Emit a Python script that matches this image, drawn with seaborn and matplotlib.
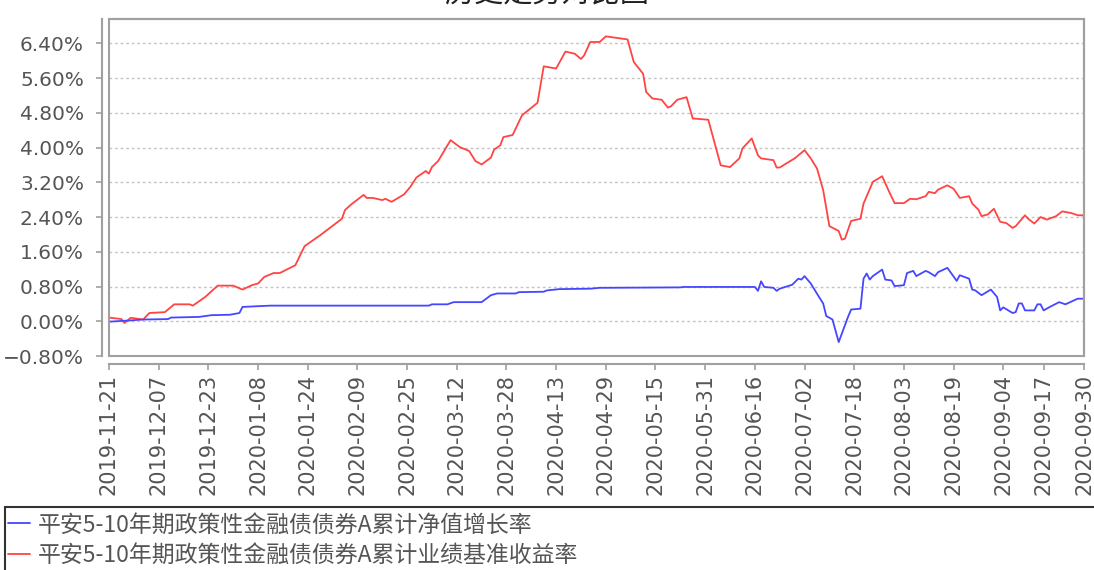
import numpy as np
import pandas as pd
import matplotlib
matplotlib.use("Agg")
import matplotlib.pyplot as plt
import matplotlib.ticker as mticker
from matplotlib.patches import Rectangle
from matplotlib.lines import Line2D
import seaborn as sns

# ---------------- data ----------------
title = "历史走势对比图"
label_nav = "平安5-10年期政策性金融债债券A累计净值增长率"
label_bench = "平安5-10年期政策性金融债债券A累计业绩基准收益率"

red_dates = [
    "2019-11-21", "2019-11-25", "2019-11-26", "2019-11-28", "2019-12-02", "2019-12-04",
    "2019-12-09", "2019-12-12", "2019-12-17", "2019-12-18", "2019-12-22", "2019-12-26",
    "2019-12-31", "2020-01-03", "2020-01-06", "2020-01-08", "2020-01-10", "2020-01-13",
    "2020-01-15", "2020-01-20", "2020-01-23", "2020-01-28", "2020-02-04", "2020-02-05",
    "2020-02-07", "2020-02-11", "2020-02-12", "2020-02-14", "2020-02-17", "2020-02-18",
    "2020-02-20", "2020-02-24", "2020-02-26", "2020-02-28", "2020-03-02", "2020-03-03",
    "2020-03-04", "2020-03-06", "2020-03-10", "2020-03-13", "2020-03-16", "2020-03-18",
    "2020-03-20", "2020-03-23", "2020-03-24", "2020-03-26", "2020-03-27", "2020-03-30",
    "2020-04-02", "2020-04-03", "2020-04-07", "2020-04-09", "2020-04-13", "2020-04-16",
    "2020-04-19", "2020-04-21", "2020-04-22", "2020-04-24", "2020-04-27", "2020-04-29",
    "2020-05-06", "2020-05-08", "2020-05-11", "2020-05-12", "2020-05-14", "2020-05-17",
    "2020-05-19", "2020-05-20", "2020-05-22", "2020-05-25", "2020-05-27", "2020-06-01",
    "2020-06-05", "2020-06-08", "2020-06-11", "2020-06-12", "2020-06-15", "2020-06-17",
    "2020-06-18", "2020-06-22", "2020-06-23", "2020-06-24", "2020-06-29", "2020-07-02",
    "2020-07-04", "2020-07-06", "2020-07-08", "2020-07-10", "2020-07-13", "2020-07-14",
    "2020-07-15", "2020-07-17", "2020-07-20", "2020-07-21", "2020-07-24", "2020-07-27",
    "2020-07-29", "2020-07-31", "2020-08-03", "2020-08-05", "2020-08-07", "2020-08-10",
    "2020-08-11", "2020-08-13", "2020-08-14", "2020-08-17", "2020-08-19", "2020-08-21",
    "2020-08-24", "2020-08-25", "2020-08-27", "2020-08-28", "2020-08-30", "2020-09-01",
    "2020-09-02", "2020-09-03", "2020-09-05", "2020-09-07", "2020-09-08", "2020-09-11",
    "2020-09-12", "2020-09-14", "2020-09-16", "2020-09-18", "2020-09-21", "2020-09-23",
    "2020-09-26", "2020-09-28", "2020-09-30",
]
red_vals = [
    0.085, 0.05, -0.04, 0.08, 0.04, 0.19,
    0.21, 0.39, 0.39, 0.36, 0.56, 0.82,
    0.82, 0.73, 0.83, 0.87, 1.02, 1.11,
    1.11, 1.29, 1.73, 1.98, 2.36, 2.56,
    2.69, 2.91, 2.84, 2.84, 2.79, 2.82,
    2.75, 2.92, 3.09, 3.31, 3.46, 3.40,
    3.55, 3.69, 4.17, 4.01, 3.92, 3.69,
    3.61, 3.77, 3.95, 4.05, 4.24, 4.29,
    4.74, 4.80, 5.03, 5.87, 5.82, 6.21,
    6.16, 6.04, 6.12, 6.43, 6.43, 6.56,
    6.49, 5.97, 5.70, 5.28, 5.13, 5.10,
    4.92, 4.95, 5.10, 5.16, 4.67, 4.64,
    3.59, 3.55, 3.75, 3.98, 4.21, 3.82,
    3.75, 3.71, 3.54, 3.54, 3.76, 3.94,
    3.75, 3.52, 3.02, 2.19, 2.08, 1.88,
    1.90, 2.31, 2.36, 2.71, 3.21, 3.34,
    3.02, 2.72, 2.72, 2.82, 2.81, 2.88,
    2.98, 2.95, 3.03, 3.13, 3.05, 2.84,
    2.88, 2.71, 2.57, 2.42, 2.46, 2.59,
    2.44, 2.29, 2.26, 2.15, 2.19, 2.44,
    2.36, 2.25, 2.40, 2.34, 2.42, 2.53,
    2.49, 2.44, 2.44,
]

blue_dates = [
    "2019-11-21", "2019-11-28", "2019-12-02", "2019-12-10", "2019-12-11", "2019-12-20",
    "2019-12-24", "2019-12-30", "2020-01-02", "2020-01-03", "2020-01-12", "2020-03-03",
    "2020-03-04", "2020-03-09", "2020-03-11", "2020-03-20", "2020-03-23", "2020-03-25",
    "2020-03-31", "2020-04-01", "2020-04-09", "2020-04-10", "2020-04-14", "2020-04-24",
    "2020-04-27", "2020-05-23", "2020-05-24", "2020-06-16", "2020-06-17", "2020-06-18",
    "2020-06-19", "2020-06-22", "2020-06-23", "2020-06-24", "2020-06-28", "2020-06-30",
    "2020-07-01", "2020-07-02", "2020-07-04", "2020-07-07", "2020-07-08", "2020-07-09",
    "2020-07-11", "2020-07-13", "2020-07-16", "2020-07-17", "2020-07-20", "2020-07-21",
    "2020-07-22", "2020-07-23", "2020-07-24", "2020-07-27", "2020-07-28", "2020-07-30",
    "2020-07-31", "2020-08-03", "2020-08-04", "2020-08-06", "2020-08-07", "2020-08-10",
    "2020-08-11", "2020-08-13", "2020-08-14", "2020-08-17", "2020-08-18", "2020-08-20",
    "2020-08-21", "2020-08-24", "2020-08-25", "2020-08-26", "2020-08-28", "2020-08-31",
    "2020-09-02", "2020-09-03", "2020-09-04", "2020-09-07", "2020-09-08", "2020-09-09",
    "2020-09-10", "2020-09-11", "2020-09-14", "2020-09-15", "2020-09-16", "2020-09-17",
    "2020-09-19", "2020-09-22", "2020-09-24", "2020-09-28", "2020-09-30",
]
blue_vals = [
    -0.01, 0.02, 0.04, 0.05, 0.085, 0.10,
    0.14, 0.15, 0.19, 0.33, 0.36, 0.36,
    0.39, 0.39, 0.44, 0.44, 0.60, 0.64,
    0.64, 0.67, 0.68, 0.71, 0.74, 0.75,
    0.77, 0.78, 0.79, 0.79, 0.70, 0.92,
    0.79, 0.77, 0.70, 0.75, 0.84, 0.98,
    0.96, 1.04, 0.87, 0.52, 0.41, 0.12,
    0.04, -0.48, 0.10, 0.27, 0.29, 0.98,
    1.10, 0.96, 1.04, 1.19, 0.96, 0.94,
    0.81, 0.83, 1.11, 1.16, 1.04, 1.16,
    1.13, 1.04, 1.13, 1.23, 1.13, 0.93,
    1.06, 0.98, 0.73, 0.71, 0.60, 0.73,
    0.56, 0.25, 0.32, 0.19, 0.21, 0.41,
    0.41, 0.25, 0.25, 0.39, 0.39, 0.25,
    0.33, 0.44, 0.39, 0.52, 0.52,
]

x_tick_labels = [
    "2019-11-21", "2019-12-07", "2019-12-23", "2020-01-08", "2020-01-24", "2020-02-09",
    "2020-02-25", "2020-03-12", "2020-03-28", "2020-04-13", "2020-04-29", "2020-05-15",
    "2020-05-31", "2020-06-16", "2020-07-02", "2020-07-18", "2020-08-03", "2020-08-19",
    "2020-09-04", "2020-09-17", "2020-09-30",
]
y_ticks = [-0.80, 0.00, 0.80, 1.60, 2.40, 3.20, 4.00, 4.80, 5.60, 6.40]

# ---------------- style ----------------
sns.set_theme(style="white")
plt.rcParams["font.family"] = ["DejaVu Sans", "Noto Sans CJK SC"]
plt.rcParams["axes.unicode_minus"] = True

RED = "#ff4444"
BLUE = "#4646ff"
GRAY_TXT = "#555555"
AX_GRAY = "#a0a0a0"

red_df = pd.DataFrame({"date": pd.to_datetime(red_dates), "value": red_vals})
blue_df = pd.DataFrame({"date": pd.to_datetime(blue_dates), "value": blue_vals})

fig = plt.figure(figsize=(10.94, 5.70), dpi=100)
W, H = 1094, 570
ax = fig.add_axes([109 / W, 1 - 356 / H, 975 / W, 337 / H])

sns.lineplot(data=red_df, x="date", y="value", ax=ax, color=RED, lw=1.3)
sns.lineplot(data=blue_df, x="date", y="value", ax=ax, color=BLUE, lw=1.3)

ax.set_xlim(pd.Timestamp(x_tick_labels[0]), pd.Timestamp(x_tick_labels[-1]))
ax.set_ylim(-0.80, 6.96)
ax.set_xlabel("")
ax.set_ylabel("")

ax.yaxis.set_major_locator(mticker.FixedLocator(y_ticks))
ax.yaxis.set_major_formatter(mticker.FuncFormatter(
    lambda v, p: (f"{v:.2f}%").replace("-", "\u2212")))
ax.xaxis.set_major_locator(mticker.FixedLocator(
    matplotlib.dates.date2num(pd.to_datetime(x_tick_labels))))
ax.xaxis.set_major_formatter(mticker.FixedFormatter(x_tick_labels))

ax.grid(axis="y", color="#c4c4c4", linestyle=(0, (2, 2)), linewidth=1.0)
ax.grid(axis="x", visible=False)

for s in ["top", "right", "left", "bottom"]:
    ax.spines[s].set_color(AX_GRAY)
    ax.spines[s].set_linewidth(1.5)
ax.spines["left"].set_position(("outward", 5))
ax.spines["bottom"].set_position(("outward", 6))
# inner plot outline (left / bottom edges)
ax.add_patch(Rectangle((0, 0), 1, 1, transform=ax.transAxes, fill=False,
                       ec=AX_GRAY, lw=1.5, clip_on=False, zorder=5))

ax.tick_params(axis="both", which="major", length=4, width=1.2, color=AX_GRAY,
               labelcolor=GRAY_TXT, left=True, bottom=True)
ax.tick_params(axis="y", pad=9, labelsize=14.5)
ax.tick_params(axis="x", pad=3, labelrotation=90, labelsize=15)

# title (cut off at the top like the reference)
fig.text(0.5, 1 - 9 / H, title, ha="center", va="bottom", fontsize=21,
         color="#222222", family=["Noto Sans CJK SC", "DejaVu Sans"])

# legend
handles = [Line2D([], [], color=BLUE, lw=1.3), Line2D([], [], color=RED, lw=1.3)]
leg = fig.legend(handles, [label_nav, label_bench], loc="upper left",
                 bbox_to_anchor=(5 / W, 1 - 510 / H), frameon=False,
                 prop={"family": ["Noto Sans CJK SC", "DejaVu Sans"], "size": 16.5},
                 handlelength=0.95, handletextpad=0.35, labelspacing=0.32,
                 borderaxespad=0, borderpad=0.15)
for t in leg.get_texts():
    t.set_color(GRAY_TXT)
fig.add_artist(Rectangle((5 / W, -0.05), 1.0, 0.05 + (570 - 507) / H,
                         transform=fig.transFigure, fill=False, ec="#333333", lw=1.5))

fig.savefig("out.png", dpi=100)
